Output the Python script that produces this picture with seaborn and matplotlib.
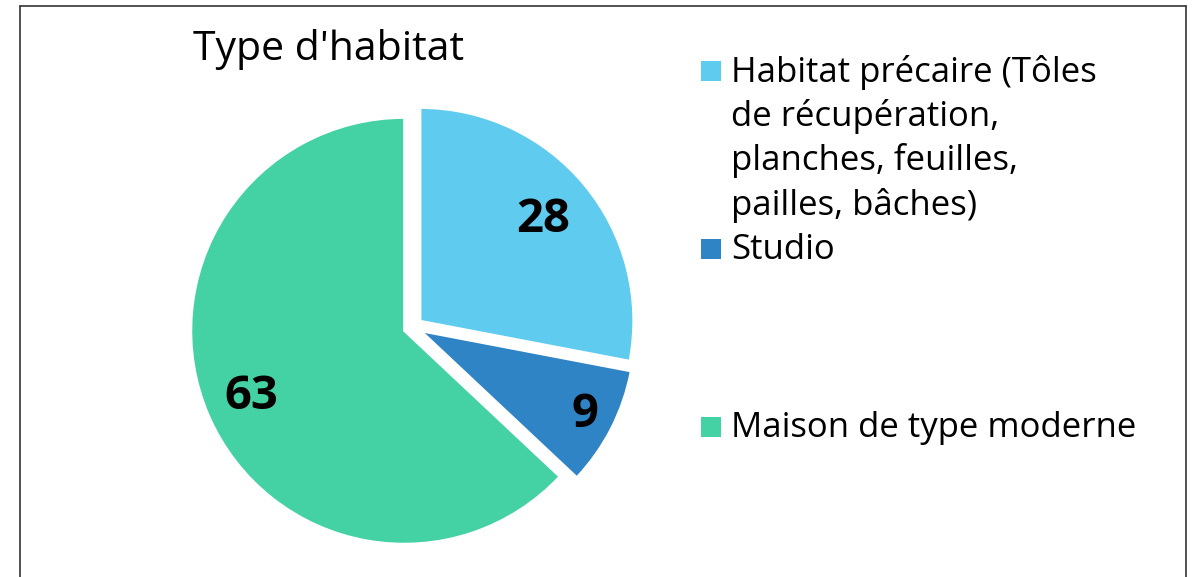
import numpy as np
import matplotlib
matplotlib.use('Agg')
import matplotlib.pyplot as plt
import seaborn as sns
from matplotlib.patches import Rectangle
from matplotlib.lines import Line2D

# données
categories = ["Habitat précaire (Tôles\nde récupération,\nplanches, feuilles,\npailles, bâches)",
              "Studio",
              "Maison de type moderne"]
values = [28, 9, 63]
colors = ["#5ECBEF", "#2F84C5", "#44D2A4"]
title = "Type d'habitat"

sns.set_style("white")
plt.rcParams['font.family'] = ['Open Sans', 'DejaVu Sans']
plt.rcParams['text.color'] = 'black'

W, H = 1199, 577
fig = plt.figure(figsize=(W / 100, H / 100), dpi=100)

# centre et rayon du camembert (pixels)
cx, cy, R = 413, 327, 213
ax = fig.add_axes([(cx - 1.2 * R) / W, (H - cy - 1.2 * R) / H, 2.4 * R / W, 2.4 * R / H])

wedges, _ = ax.pie(values, colors=colors, startangle=90, counterclock=False,
                   explode=[0.045] * len(values), radius=1,
                   wedgeprops=dict(edgecolor='white', linewidth=1.5))
ax.set_xlim(-1.2, 1.2)
ax.set_ylim(-1.2, 1.2)

# étiquettes de valeurs
label_dist = [0.75, 0.86, 0.78]
for w, v, d in zip(wedges, values, label_dist):
    ang = np.deg2rad((w.theta1 + w.theta2) / 2)
    x = w.center[0] + d * w.r * np.cos(ang)
    y = w.center[1] + d * w.r * np.sin(ang)
    ax.text(x, y, str(v), ha='center', va='center', fontsize=34, fontweight='bold',
            color='black')

fig.text(193 / W, 1 - 49 / H, title, fontsize=29.5, ha='left', va='center', color='black')

# légende manuelle
marker_y = [71, 249, 427]
for lab, col, my in zip(categories, colors, marker_y):
    fig.add_artist(Rectangle((701 / W, 1 - (my + 10) / H), 20 / W, 20 / H,
                             transform=fig.transFigure, facecolor=col, edgecolor='none'))
    fig.text(731 / W, 1 - (my - 16) / H, lab, fontsize=25, ha='left', va='top',
             linespacing=1.34, color='black')

# cadre
for xs, ys in [([20, 20], [6, 600]), ([1186, 1186], [6, 600]), ([20, 1186], [6, 6])]:
    fig.add_artist(Line2D([x / W for x in xs], [1 - y / H for y in ys],
                          transform=fig.transFigure, color='#333333', linewidth=1.2))

plt.savefig('out.png', dpi=100)
plt.close()
